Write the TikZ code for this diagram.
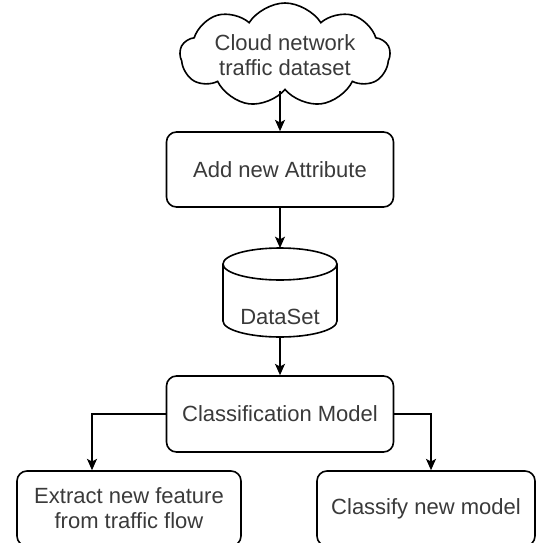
\documentclass[tikz,border=0pt]{standalone}
\usepackage{fontspec}
\setmainfont{Liberation Sans}
\usetikzlibrary{shapes.symbols,arrows.meta}
\definecolor{txtgray}{HTML}{3A3A3A}
\begin{document}
\begin{tikzpicture}[x=0.75pt,y=-0.75pt,
  lbl/.style={text=txtgray,font=\fontsize{16.5pt}{18.75pt}\selectfont,align=center},
  rbox/.style={lbl,draw=black,line width=1.2pt,rounded corners=7.5pt,fill=white,inner sep=0pt},
  arr/.style={line width=1.2pt,-{Stealth[length=8.5pt,width=7.5pt,inset=2pt]}},
  cloudbox/.style={lbl,draw=black,line width=1.2pt,cloud,cloud puffs=9,cloud puff arc=115,cloud ignores aspect,inner sep=0pt}
]
\useasboundingbox (0,0) rectangle (537,543);
\begin{scope}
\clip (0,0) rectangle (537,543);
% nodes
\node[cloudbox,minimum width={210*0.75pt},minimum height={104*0.75pt}] (cloud) at (285,55) {Cloud network\\traffic dataset};
\node[rbox,minimum width={227*0.75pt},minimum height={75*0.75pt}] (attr) at (280,169.5) {Add new Attribute};
\node[inner sep=0pt,outer sep=0pt,minimum width={114*0.75pt},minimum height={89*0.75pt}] (ds) at (280,292.5) {};
\node[rbox,minimum width={227*0.75pt},minimum height={76*0.75pt}] (clf) at (280,414) {Classification Model};
\node[rbox,minimum width={224*0.75pt},minimum height={75*0.75pt}] (left) at (129,508.5) {Extract new feature\\from traffic flow};
\node[rbox,minimum width={218*0.75pt},minimum height={75*0.75pt}] (right) at (426,508.5) {Classify new model};
% cylinder drawing
\draw[line width=1.2pt,fill=white]
  ([yshift=-12pt]ds.north west) -- ([yshift=12pt]ds.south west)
  arc[start angle=180,end angle=360,x radius=42.75pt,y radius=12pt]
  -- ([yshift=-12pt]ds.north east);
\draw[line width=1.2pt,fill=white] ([yshift=-12pt]ds.north) ellipse[x radius=42.75pt,y radius=12pt];
\node[lbl] (dstext) at (280,317) {DataSet};
% connectors
\draw[arr] (cloud.south -| attr.north) -- (attr.north);
\draw[arr] (attr.south) -- (ds.north);
\draw[arr] (ds.south) -- (clf.north);
\draw[arr] (clf.west) -| ([xshift={-37*0.75pt}]left.north);
\draw[arr] (clf.east) -| ([xshift={5*0.75pt}]right.north);
\end{scope}
\end{tikzpicture}
\end{document}
